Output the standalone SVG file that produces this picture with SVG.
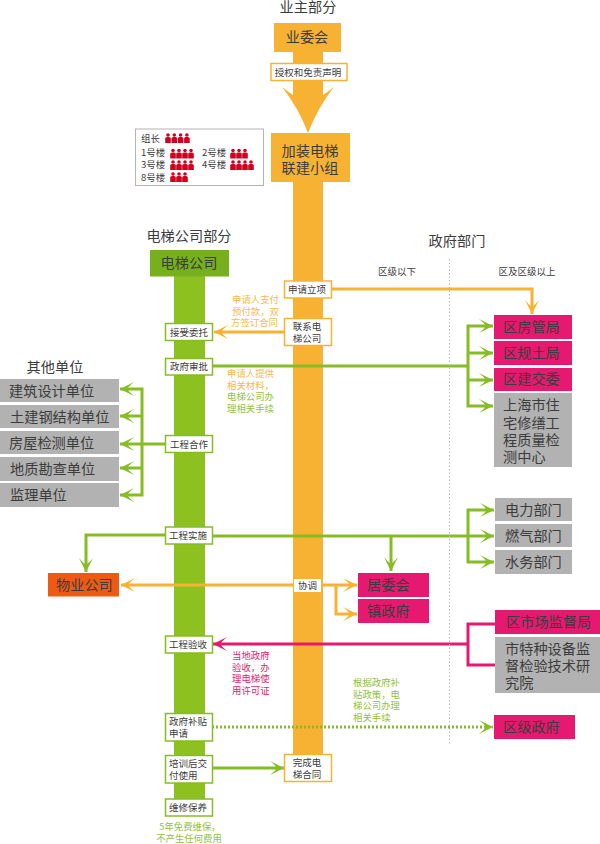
<svg xmlns="http://www.w3.org/2000/svg" width="600" height="844" viewBox="0 0 600 844">
<style>
text{font-family:"Noto Sans CJK SC","Noto Sans",sans-serif;fill:#3c3c3c}
.c{text-anchor:middle}
.t14{font-size:14.2px}
.t9{font-size:9.5px}
.sm{font-size:9.4px}
.o{fill:#f7b233}.g{fill:#8cc11f}.p{fill:#e5196f}.gr{fill:#b2b2b2}
.lo,.lg,.lp,.ld{fill:none;stroke-width:3}
.lo{stroke:#f7b233}.lg{stroke:#86bc25}.lp{stroke:#e5196f}.ld{stroke:#86bc25;stroke-dasharray:2 2}
.bg{fill:#fff;stroke:#86bc25;stroke-width:1.5}
.bo{fill:#fff;stroke:#f7b233;stroke-width:1.5}
.to{fill:#f3b94e}.tg{fill:#92c23c}.tp{fill:#e5196f}
</style>
<defs>
<marker id="ag" markerUnits="userSpaceOnUse" markerWidth="16" markerHeight="16" viewBox="-14 -8 16 16" refX="0" refY="0" orient="auto" overflow="visible"><path d="M0,0L-14,-7Q-9,-3-7,0Q-9,3-14,7Z" fill="#86bc25"/></marker>
<marker id="ao" markerUnits="userSpaceOnUse" markerWidth="16" markerHeight="16" viewBox="-14 -8 16 16" refX="0" refY="0" orient="auto" overflow="visible"><path d="M0,0L-14,-7Q-9,-3-7,0Q-9,3-14,7Z" fill="#f7b233"/></marker>
<marker id="ap" markerUnits="userSpaceOnUse" markerWidth="16" markerHeight="16" viewBox="-14 -8 16 16" refX="0" refY="0" orient="auto" overflow="visible"><path d="M0,0L-14,-7Q-9,-3-7,0Q-9,3-14,7Z" fill="#e5196f"/></marker>
<symbol id="pr" viewBox="0 0 6 10" width="6" height="10" overflow="visible"><circle cx="3" cy="2" r="1.8" fill="#d2001e"/><path d="M0.200,10V5.500Q0.200,4 2,4H4Q5.800,4 5.800,5.500V10Z" fill="#d2001e"/></symbol>
</defs>

<g id="columns">
<path class="o" d="M293,52H323V95Q329,91 334,87Q318,107 308,133Q298,107 282,87Q287,91 293,95Z"/>
<rect class="o" x="293" y="180" width="30" height="575"/>
<rect class="g" x="174" y="274" width="31" height="526"/>
</g>

<g id="connectors">
<path class="lo" d="M332,289H532V314" marker-end="url(#ao)"/>
<path class="lo" d="M285,332H214" marker-end="url(#ao)"/>
<path class="lg" d="M213,366H468"/>
<path class="lg" d="M468,366V326H493" marker-end="url(#ag)"/>
<path class="lg" d="M468,353H493" marker-end="url(#ag)"/>
<path class="lg" d="M468,380H493" marker-end="url(#ag)"/>
<path class="lg" d="M468,366V406H493" marker-end="url(#ag)"/>
<path class="lg" d="M165,444H142"/>
<path class="lg" d="M142,444V389H120" marker-end="url(#ag)"/>
<path class="lg" d="M142,416H120" marker-end="url(#ag)"/>
<path class="lg" d="M142,444H120" marker-end="url(#ag)"/>
<path class="lg" d="M142,468H120" marker-end="url(#ag)"/>
<path class="lg" d="M142,444V495H120" marker-end="url(#ag)"/>
<path class="lg" d="M165,535H86V572" marker-end="url(#ag)"/>
<path class="lg" d="M213,536H494" marker-end="url(#ag)"/>
<path class="lg" d="M468,536V510H494" marker-end="url(#ag)"/>
<path class="lg" d="M468,536V562H494" marker-end="url(#ag)"/>
<path class="lg" d="M391,536V571" marker-end="url(#ag)"/>
<path class="lo" d="M294,585H121" marker-end="url(#ao)"/>
<path class="lo" d="M321,585H357" marker-end="url(#ao)"/>
<path class="lo" d="M336,585V614H357" marker-end="url(#ao)"/>
<path class="lp" d="M495,624H468V665H495"/>
<path class="lp" d="M468,644H213" marker-end="url(#ap)"/>
<path class="ld" d="M212,727H493" marker-end="url(#ag)"/>
<path class="lg" d="M212,768H284" marker-end="url(#ag)"/>
<path fill="none" stroke="#b9b9b9" stroke-width="1" stroke-dasharray="1.5 2" d="M449.500,259V745"/>
</g>

<g id="headings">
<text class="c t14" x="308" y="12">业主部分</text>
<text class="c t14" x="189" y="241">电梯公司部分</text>
<text class="c t14" x="457" y="246">政府部门</text>
<text class="c t14" x="55" y="372">其他单位</text>
<text class="c t9" x="397" y="275">区级以下</text>
<text class="c t9" x="527" y="275">区及区级以上</text>
</g>

<g id="yeweihui"><rect class="o" x="274" y="23" width="67" height="29"/><text class="c t14" x="307" y="42">业委会</text></g>
<g id="shouquan"><rect class="bo" x="271" y="63.500" width="76" height="17"/><text class="c t9" x="308" y="75.500">授权和免责声明</text></g>
<g id="lianjian"><rect class="o" x="271" y="133" width="79" height="49"/><text class="c t14" x="310" y="156">加装电梯</text><text class="c t14" x="310" y="173">联建小组</text></g>

<g id="legend">
<rect x="135.500" y="129" width="128" height="56.500" fill="#fff" stroke="#b4b4b4" stroke-width="1"/>
<text class="t9" x="141" y="142">组长</text>
<text class="t9" x="141" y="156">1号楼</text>
<text class="t9" x="141" y="168">3号楼</text>
<text class="t9" x="141" y="181">8号楼</text>
<text class="t9" x="202" y="156">2号楼</text>
<text class="t9" x="202" y="168">4号楼</text>
<use href="#pr" x="165" y="133"/><use href="#pr" x="171.300" y="133"/><use href="#pr" x="177.600" y="133"/><use href="#pr" x="183.900" y="133"/>
<use href="#pr" x="170" y="148.500"/><use href="#pr" x="176" y="148.500"/><use href="#pr" x="182" y="148.500"/><use href="#pr" x="188" y="148.500"/>
<use href="#pr" x="230" y="148.500"/><use href="#pr" x="236" y="148.500"/><use href="#pr" x="242" y="148.500"/>
<use href="#pr" x="170" y="160"/><use href="#pr" x="176" y="160"/><use href="#pr" x="182" y="160"/><use href="#pr" x="188" y="160"/>
<use href="#pr" x="230" y="160"/><use href="#pr" x="236" y="160"/><use href="#pr" x="242" y="160"/><use href="#pr" x="248" y="160"/>
<use href="#pr" x="170" y="172"/><use href="#pr" x="176" y="172"/><use href="#pr" x="182" y="172"/>
</g>

<g id="dianti"><rect x="150" y="250" width="79" height="26.500" fill="#76b01e"/><text class="c t14" x="189" y="268">电梯公司</text></g>

<g id="n-jieshou"><rect class="bg" x="165.500" y="323.500" width="47" height="17"/><text class="c t9" x="189" y="335.500">接受委托</text></g>
<g id="n-shenpi"><rect class="bg" x="165.500" y="358.500" width="47" height="16.500"/><text class="c t9" x="189" y="370">政府审批</text></g>
<g id="n-hezuo"><rect class="bg" x="165.500" y="435.500" width="47" height="17"/><text class="c t9" x="189" y="447.500">工程合作</text></g>
<g id="n-shishi"><rect class="bg" x="165.500" y="527" width="47" height="17"/><text class="c t9" x="188" y="539">工程实施</text></g>
<g id="n-yanshou"><rect class="bg" x="165.500" y="636" width="47" height="17"/><text class="c t9" x="188" y="648">工程验收</text></g>
<g id="n-butie"><rect class="bg" x="165.500" y="713.500" width="47" height="27.500"/><text class="t9" x="169" y="725">政府补贴</text><text class="t9" x="169" y="736.500">申请</text></g>
<g id="n-peixun"><rect class="bg" x="165.500" y="755.500" width="47" height="27.500"/><text class="t9" x="169" y="767">培训后交</text><text class="t9" x="169" y="778.500">付使用</text></g>
<g id="n-weixiu"><rect class="bg" x="165.500" y="799" width="47" height="17"/><text class="c t9" x="188" y="811">维修保养</text></g>

<g id="n-lixiang"><rect class="bo" x="284.500" y="281" width="47" height="17"/><text class="c t9" x="307" y="293">申请立项</text></g>
<g id="n-lianxi"><rect class="bo" x="284.500" y="318.500" width="47" height="27"/><text class="c t9" x="307" y="330">联系电</text><text class="c t9" x="307" y="341.500">梯公司</text></g>
<g id="n-xietiao"><rect x="294" y="579" width="27" height="13" fill="#fff"/><text class="c t9" x="307.500" y="589">协调</text></g>
<g id="n-wancheng"><rect class="bo" x="284.500" y="754.500" width="47" height="27"/><text class="c t9" x="307" y="766">完成电</text><text class="c t9" x="307" y="777.500">梯合同</text></g>

<g id="u1"><rect class="gr" x="0" y="379" width="119" height="23"/><text class="t14" x="9" y="396">建筑设计单位</text></g>
<g id="u2"><rect class="gr" x="0" y="405" width="119" height="23"/><text class="t14" x="10" y="422">土建钢结构单位</text></g>
<g id="u3"><rect class="gr" x="0" y="431" width="119" height="23"/><text class="t14" x="9" y="448">房屋检测单位</text></g>
<g id="u4"><rect class="gr" x="0" y="457" width="119" height="24"/><text class="t14" x="10" y="474">地质勘查单位</text></g>
<g id="u5"><rect class="gr" x="0" y="483" width="119" height="24"/><text class="t14" x="10" y="500">监理单位</text></g>

<g id="gov1"><rect class="p" x="494" y="315" width="78" height="24"/><text class="t14" x="503" y="332">区房管局</text></g>
<g id="gov2"><rect class="p" x="494" y="341" width="78" height="24"/><text class="t14" x="503" y="358">区规土局</text></g>
<g id="gov3"><rect class="p" x="494" y="368" width="78" height="23"/><text class="t14" x="503" y="384">区建交委</text></g>
<g id="gov4"><rect class="gr" x="494" y="393" width="78" height="74"/><text class="t14" x="503" y="410">上海市住</text><text class="t14" x="503" y="428">宅修缮工</text><text class="t14" x="503" y="445">程质量检</text><text class="t14" x="503" y="462">测中心</text></g>
<g id="gov5"><rect class="gr" x="495" y="498" width="77" height="23"/><text class="t14" x="505" y="515">电力部门</text></g>
<g id="gov6"><rect class="gr" x="495" y="524" width="77" height="23"/><text class="t14" x="505" y="541">燃气部门</text></g>
<g id="gov7"><rect class="gr" x="495" y="550" width="77" height="24"/><text class="t14" x="505" y="567">水务部门</text></g>
<g id="gov8"><rect class="p" x="495" y="610" width="105" height="24"/><text class="t14" x="506" y="627">区市场监督局</text></g>
<g id="gov9"><rect class="gr" x="495" y="637" width="105" height="56"/><text class="t14" x="505" y="654">市特种设备监</text><text class="t14" x="505" y="671">督检验技术研</text><text class="t14" x="505" y="688">究院</text></g>
<g id="gov10"><rect class="p" x="494" y="715" width="81" height="24"/><text class="t14" x="503" y="732">区级政府</text></g>
<g id="wuye"><rect x="48" y="573" width="71" height="23.500" fill="#ee5a14"/><text class="t14" x="56" y="590">物业公司</text></g>
<g id="juwei"><rect class="p" x="358" y="573" width="71" height="24"/><text class="t14" x="367" y="590">居委会</text></g>
<g id="zhen"><rect class="p" x="358" y="599" width="71" height="24"/><text class="t14" x="367" y="616">镇政府</text></g>

<g id="notes">
<text class="sm to" x="232" y="303">申请人支付</text><text class="sm to" x="232" y="315">预付款，双</text><text class="sm to" x="231" y="326">方签订合同</text>
<text class="sm to" x="227" y="377">申请人提供</text><text class="sm to" x="227" y="389">相关材料，</text><text class="sm tg" x="227" y="400">电梯公司办</text><text class="sm tg" x="227" y="412">理相关手续</text>
<text class="sm tp" x="232" y="659">当地政府</text><text class="sm tp" x="232" y="670.500">验收，办</text><text class="sm tp" x="232" y="682">理电梯使</text><text class="sm tp" x="232" y="693.500">用许可证</text>
<text class="sm tg" x="353" y="686">根据政府补</text><text class="sm tg" x="353" y="697.500">贴政策，电</text><text class="sm tg" x="353" y="709">梯公司办理</text><text class="sm tg" x="353" y="720.500">相关手续</text>
<text class="sm tg c" x="190" y="830">5年免费维保，</text><text class="sm tg c" x="189" y="841.500">不产生任何费用</text>
</g>
</svg>
